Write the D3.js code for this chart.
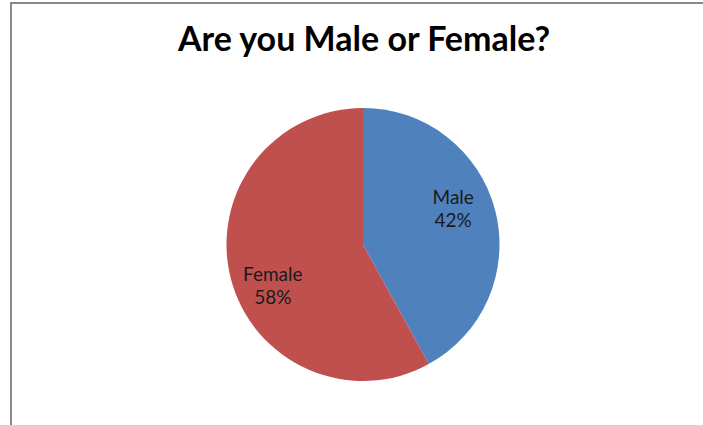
<!DOCTYPE html>
<html>
<head>
<meta charset="utf-8">
<script src="https://cdn.jsdelivr.net/npm/d3@7"></script>
<style>
  html, body { margin: 0; padding: 0; background: #fff; }
  svg { display: block; }
</style>
</head>
<body>
<svg id="chart" width="703" height="425"></svg>
<script>
const title = "Are you Male or Female?";
const categories = ["Male", "Female"];
const values = [42, 58];
const colors = ["#4F81BD", "#C0504D"];

const width = 703, height = 425;
const svg = d3.select("#chart");

// chart area border (left and top visible)
svg.append("path")
  .attr("d", "M11,425 V3 H703")
  .attr("fill", "none")
  .attr("stroke", "#898989")
  .attr("stroke-width", 2);

svg.append("text")
  .attr("x", 364)
  .attr("y", 51)
  .attr("text-anchor", "middle")
  .attr("font-family", "Lato, 'Open Sans', sans-serif")
  .attr("font-weight", "bold")
  .attr("font-size", 34)
  .attr("fill", "#000")
  .text(title);

const cx = 363, cy = 244.5, r = 136.5;
const data = categories.map((c, i) => ({ name: c, value: values[i], color: colors[i] }));
const total = d3.sum(values);

const pie = d3.pie().value(d => d.value).sort(null);
const arc = d3.arc().innerRadius(0).outerRadius(r);
const labelR = 98, shift = 0.15;
const labelArc = d3.arc().innerRadius(labelR).outerRadius(labelR);

const g = svg.append("g").attr("transform", `translate(${cx},${cy})`);
const arcs = pie(data);

g.selectAll("path.slice")
  .data(arcs)
  .join("path")
  .attr("class", "slice")
  .attr("d", arc)
  .attr("fill", d => d.data.color);

const labels = g.selectAll("text.lbl")
  .data(arcs)
  .join("text")
  .attr("class", "lbl")
  .attr("transform", d => {
    const c = labelArc.centroid({ startAngle: d.startAngle - shift, endAngle: d.endAngle - shift });
    return `translate(${c[0]},${c[1]})`;
  })
  .attr("text-anchor", "middle")
  .attr("font-family", "Lato, 'Open Sans', sans-serif")
  .attr("font-size", 19)
  .attr("fill", "#1a1a1a");

labels.append("tspan").attr("x", 0).attr("dy", "-0.1em").text(d => d.data.name);
labels.append("tspan").attr("x", 0).attr("dy", 23).text(d => Math.round(d.data.value / total * 100) + "%");
</script>
</body>
</html>
